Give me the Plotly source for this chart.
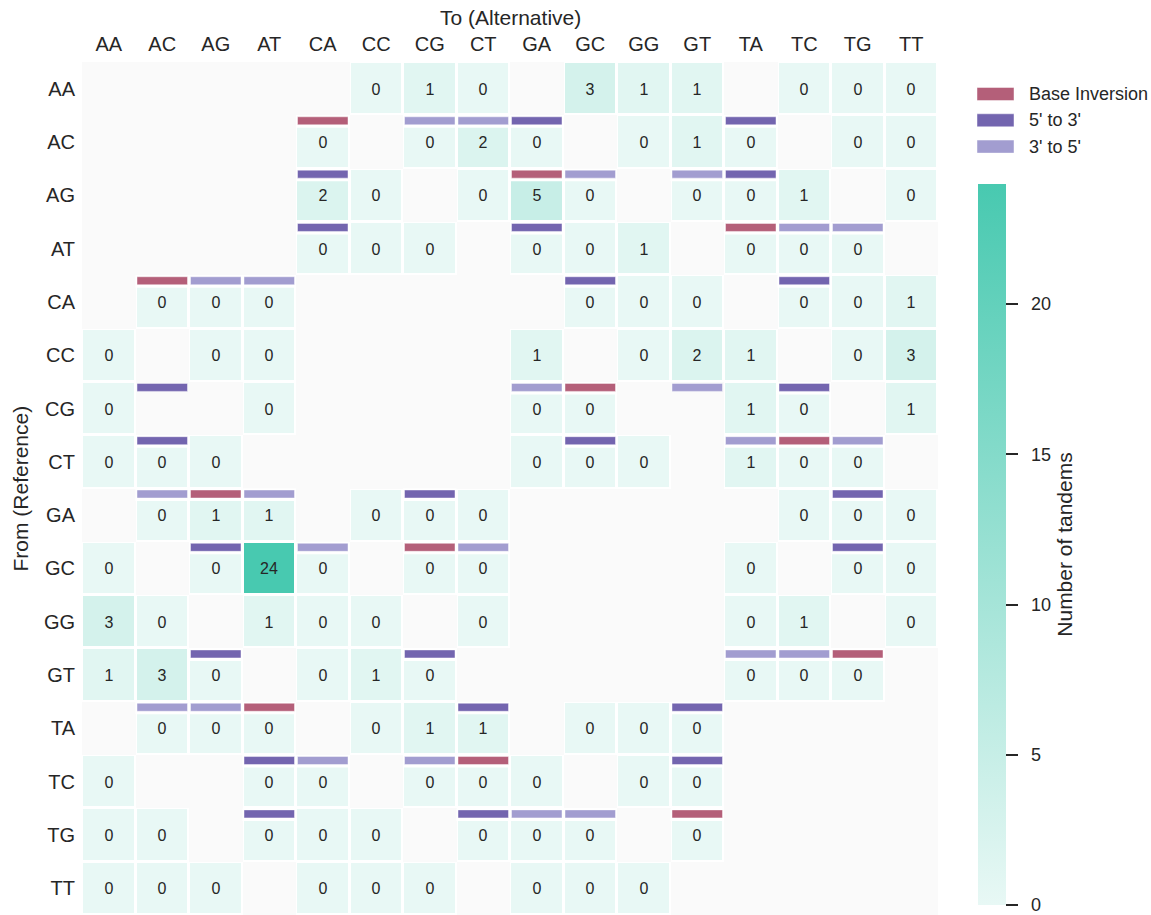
import plotly.graph_objects as go

# Dinucleotide labels (rows: reference, columns: alternative)
bases = ["AA", "AC", "AG", "AT", "CA", "CC", "CG", "CT",
         "GA", "GC", "GG", "GT", "TA", "TC", "TG", "TT"]
from_labels = bases
to_labels = bases

N = None
# Number of tandems per (from, to) pair; None = no observation
tandem_counts = [
    [N, N, N, N, N, 0, 1, 0, N, 3, 1, 1, N, 0, 0, 0],   # AA
    [N, N, N, N, 0, N, 0, 2, 0, N, 0, 1, 0, N, 0, 0],   # AC
    [N, N, N, N, 2, 0, N, 0, 5, 0, N, 0, 0, 1, N, 0],   # AG
    [N, N, N, N, 0, 0, 0, N, 0, 0, 1, N, 0, 0, 0, N],   # AT
    [N, 0, 0, 0, N, N, N, N, N, 0, 0, 0, N, 0, 0, 1],   # CA
    [0, N, 0, 0, N, N, N, N, 1, N, 0, 2, 1, N, 0, 3],   # CC
    [0, N, N, 0, N, N, N, N, 0, 0, N, N, 1, 0, N, 1],   # CG
    [0, 0, 0, N, N, N, N, N, 0, 0, 0, N, 1, 0, 0, N],   # CT
    [N, 0, 1, 1, N, 0, 0, 0, N, N, N, N, N, 0, 0, 0],   # GA
    [0, N, 0, 24, 0, N, 0, 0, N, N, N, N, 0, N, 0, 0],  # GC
    [3, 0, N, 1, 0, 0, N, 0, N, N, N, N, 0, 1, N, 0],   # GG
    [1, 3, 0, N, 0, 1, 0, N, N, N, N, N, 0, 0, 0, N],   # GT
    [N, 0, 0, 0, N, 0, 1, 1, N, 0, 0, 0, N, N, N, N],   # TA
    [0, N, N, 0, 0, N, 0, 0, 0, N, 0, 0, N, N, N, N],   # TC
    [0, 0, N, 0, 0, 0, N, 0, 0, 0, N, 0, N, N, N, N],   # TG
    [0, 0, 0, N, 0, 0, 0, N, 0, 0, 0, N, N, N, N, N],   # TT
]

# Relationship flags drawn as a strip on top of a cell: (from, to)
base_inversion = [("AC", "CA"), ("AG", "GA"), ("AT", "TA"), ("CA", "AC"),
                  ("CG", "GC"), ("CT", "TC"), ("GA", "AG"), ("GC", "CG"),
                  ("GT", "TG"), ("TA", "AT"), ("TC", "CT"), ("TG", "GT")]
shift_5_to_3 = [("AC", "GA"), ("AC", "TA"), ("AG", "CA"), ("AG", "TA"),
                ("AT", "CA"), ("AT", "GA"), ("CA", "GC"), ("CA", "TC"),
                ("CG", "AC"), ("CG", "TC"), ("CT", "AC"), ("CT", "GC"),
                ("GA", "CG"), ("GA", "TG"), ("GC", "AG"), ("GC", "TG"),
                ("GT", "AG"), ("GT", "CG"), ("TA", "CT"), ("TA", "GT"),
                ("TC", "AT"), ("TC", "GT"), ("TG", "AT"), ("TG", "CT")]
shift_3_to_5 = [("AC", "CG"), ("AC", "CT"), ("AG", "GC"), ("AG", "GT"),
                ("AT", "TC"), ("AT", "TG"), ("CA", "AG"), ("CA", "AT"),
                ("CG", "GA"), ("CG", "GT"), ("CT", "TA"), ("CT", "TG"),
                ("GA", "AC"), ("GA", "AT"), ("GC", "CA"), ("GC", "CT"),
                ("GT", "TA"), ("GT", "TC"), ("TA", "AC"), ("TA", "AG"),
                ("TC", "CA"), ("TC", "CG"), ("TG", "GA"), ("TG", "GC")]

groups = [
    ("Base Inversion", "#b45f79", base_inversion),
    ("5' to 3'", "#7365af", shift_5_to_3),
    ("3' to 5'", "#a29dd0", shift_3_to_5),
]

colorbar_ticks = [0, 5, 10, 15, 20]

FONT = "Liberation Sans, Arial, Helvetica, sans-serif"
INK = "#262626"
EDGE = dict(width=1, color="rgba(255,255,255,0.45)")
W, H = 1151, 915
ML, MR, MT, MB = 82, 213, 62, 0
PW, PH = W - ML - MR, H - MT - MB
n_rows, n_cols = len(from_labels), len(to_labels)
cell_w = PW / n_cols
cell_h = PH / n_rows
GAP = 3


def px_x(px):
    return (px - ML) / PW


def px_y(py):
    return 1 - (py - MT) / PH


xs = list(range(n_cols))
ys = list(range(n_rows))

text = [["" if v is None else str(v) for v in row] for row in tandem_counts]
underlay = [[None if v is None else 0 for v in row] for row in tandem_counts]

fig = go.Figure()

# white backing under observed cells so the gaps around them read white
fig.add_trace(go.Heatmap(
    x=xs, y=ys, z=underlay,
    colorscale=[[0, "#ffffff"], [1, "#ffffff"]],
    showscale=False, hoverinfo="skip", zsmooth=False,
))

cb_top, cb_bottom = 184, 905
fig.add_trace(go.Heatmap(
    x=xs, y=ys, z=tandem_counts,
    text=text, texttemplate="%{text}",
    textfont=dict(family=FONT, size=16, color=INK),
    colorscale=[[0, "#e8f8f5"], [1, "#48c9b0"]],
    zmin=0, zmax=24,
    xgap=GAP, ygap=GAP, zsmooth=False, hoverongaps=False,
    customdata=[[f"{r} → {c}" for c in to_labels] for r in from_labels],
    hovertemplate="%{customdata}: %{z}<extra></extra>",
    colorbar=dict(
        thickness=28, thicknessmode="pixels",
        len=(cb_bottom - cb_top) / PH, lenmode="fraction",
        xref="paper", x=px_x(978), xanchor="left",
        yref="paper", y=px_y((cb_top + cb_bottom) / 2), yanchor="middle",
        xpad=0, ypad=0, outlinewidth=0,
        ticks="outside", ticklen=12, tickwidth=2, tickcolor=INK,
        tickvals=colorbar_ticks,
        ticktext=["\u00a0\u00a0" + str(t) for t in colorbar_ticks],
        ticklabeloverflow="allow",
        tickfont=dict(family=FONT, size=18, color=INK),
        title=dict(text="Number of tandems", side="right",
                   font=dict(family=FONT, size=21, color=INK)),
    ),
))

# relationship strips along the top edge of each flagged cell
shapes = []
dx = (GAP / 2) / cell_w
for name, color, pairs in groups:
    for src, dst in pairs:
        r = from_labels.index(src)
        c = to_labels.index(dst)
        top = r - 0.5
        if tandem_counts[r][c] is not None:
            shapes.append(dict(
                type="rect", xref="x", yref="y", layer="above",
                x0=c - 0.5, x1=c + 0.5,
                y0=top, y1=top + 12.5 / cell_h,
                fillcolor="#ffffff", line=dict(width=0),
            ))
        shapes.append(dict(
            type="rect", xref="x", yref="y", layer="above",
            x0=c - 0.5 + dx, x1=c + 0.5 - dx,
            y0=top + 1.5 / cell_h, y1=top + 9.5 / cell_h,
            fillcolor=color, line=EDGE,
        ))

# legend for the strip colours
annotations = []
for i, (name, color, _) in enumerate(groups):
    cy = 94 + i * 26.3
    shapes.append(dict(
        type="rect", xref="paper", yref="paper",
        x0=px_x(977), x1=px_x(1014),
        y0=px_y(cy + 6.5), y1=px_y(cy - 6.5),
        fillcolor=color, line=EDGE,
    ))
    annotations.append(dict(
        text=name, xref="paper", yref="paper",
        x=px_x(1027), y=px_y(cy), xanchor="left", yanchor="middle",
        showarrow=False, font=dict(family=FONT, size=18, color=INK),
    ))

annotations.append(dict(
    text="To (Alternative)", xref="paper", yref="paper",
    x=0.5, y=px_y(17), xanchor="center", yanchor="middle",
    showarrow=False, font=dict(family=FONT, size=21, color=INK),
))
annotations.append(dict(
    text="From (Reference)", xref="paper", yref="paper",
    x=px_x(20), y=0.5, xanchor="center", yanchor="middle", textangle=-90,
    showarrow=False, font=dict(family=FONT, size=21, color=INK),
))

fig.update_layout(
    width=W, height=H,
    margin=dict(l=ML, r=MR, t=MT, b=MB, pad=0),
    paper_bgcolor="#ffffff",
    plot_bgcolor="#fafafa",
    shapes=shapes,
    annotations=annotations,
    showlegend=False,
    font=dict(family=FONT, color=INK),
    xaxis=dict(
        side="top", range=[-0.5, n_cols - 0.5],
        tickvals=xs, ticktext=to_labels,
        tickfont=dict(family=FONT, size=20, color=INK),
        showgrid=False, zeroline=False, showline=False, ticks="",
        ticklabelstandoff=6, fixedrange=True,
    ),
    yaxis=dict(
        range=[n_rows - 0.5, -0.5],
        tickvals=ys, ticktext=from_labels,
        tickfont=dict(family=FONT, size=20, color=INK),
        showgrid=False, zeroline=False, showline=False, ticks="",
        ticklabelstandoff=6, fixedrange=True,
    ),
)

fig.write_html("out.html")
